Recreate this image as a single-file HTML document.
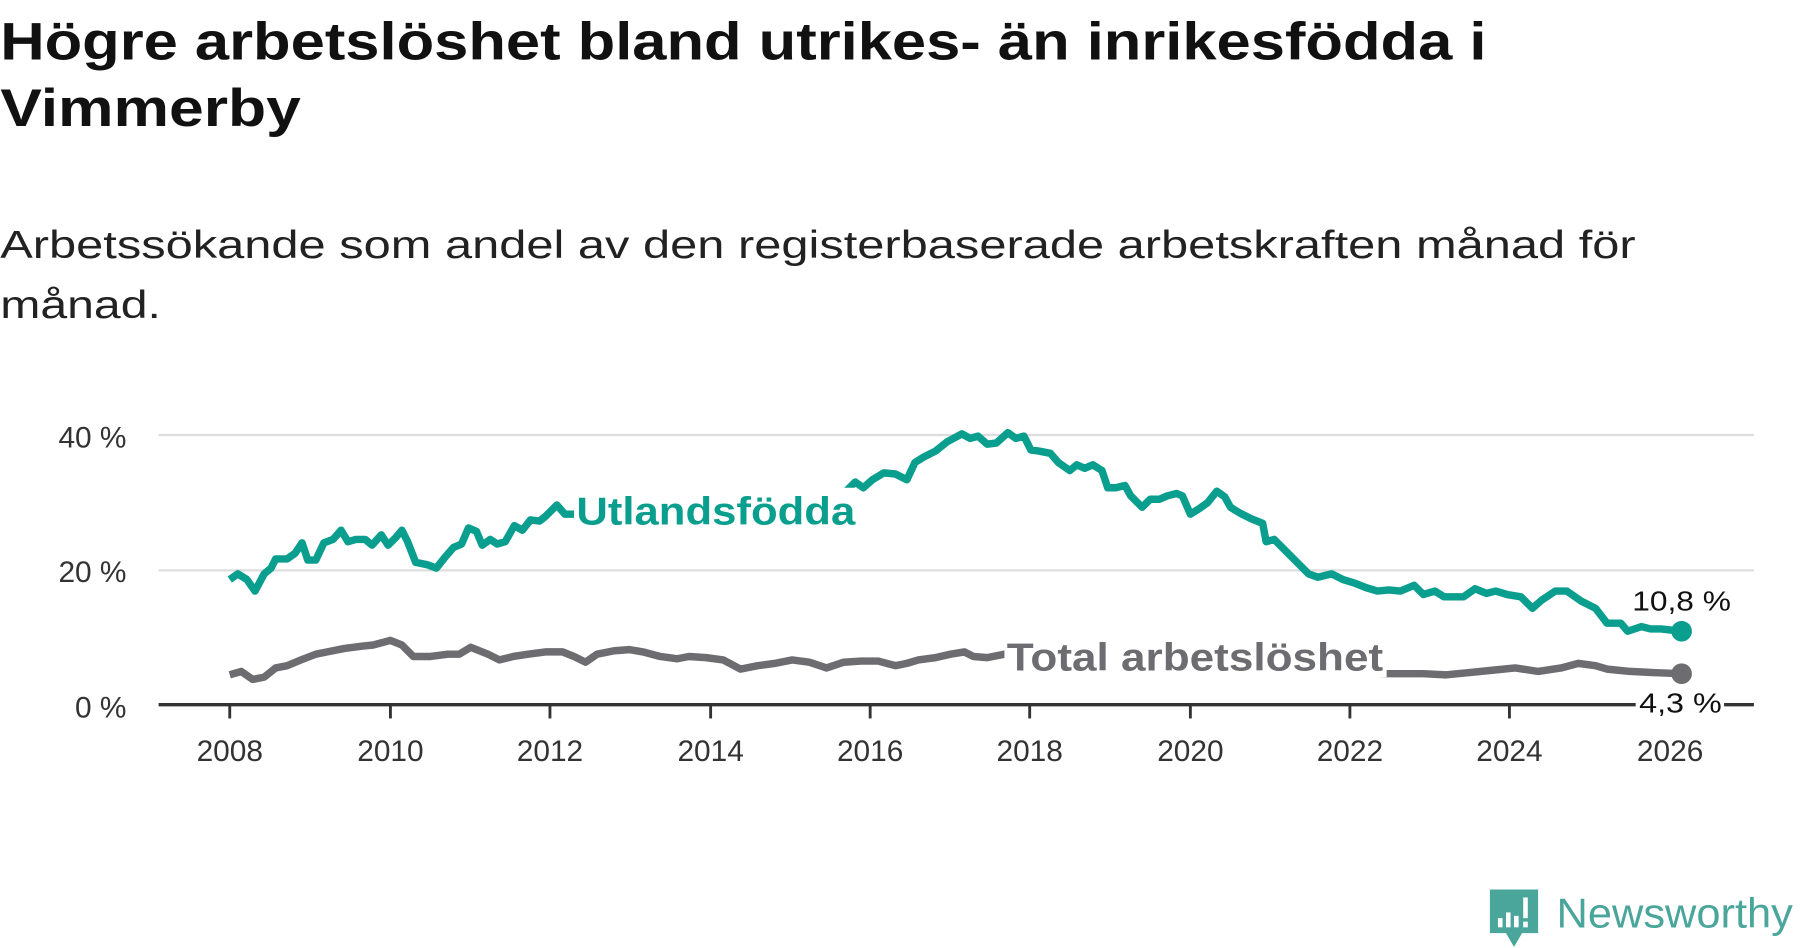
<!DOCTYPE html>
<html><head><meta charset="utf-8"><style>
html,body{margin:0;padding:0;background:#fff;}
svg{display:block;}
</style></head><body>
<svg width="1800" height="948" viewBox="0 0 1568 826" xmlns="http://www.w3.org/2000/svg" font-family="'Liberation Sans', sans-serif">
<rect width="1568" height="826" fill="#fff"/>
<text x="0" y="52" font-size="46" font-weight="bold" fill="#111" textLength="1295" lengthAdjust="spacingAndGlyphs">Högre arbetslöshet bland utrikes- än inrikesfödda i</text>
<text x="0" y="110" font-size="46" font-weight="bold" fill="#111" textLength="262" lengthAdjust="spacingAndGlyphs">Vimmerby</text>
<text x="0" y="225" font-size="34" fill="#222" textLength="1425" lengthAdjust="spacingAndGlyphs">Arbetssökande som andel av den registerbaserade arbetskraften månad för</text>
<text x="0" y="277" font-size="34" fill="#222" textLength="140" lengthAdjust="spacingAndGlyphs">månad.</text>

<line x1="138" y1="379" x2="1528" y2="379" stroke="#ddd" stroke-width="2"/>
<line x1="138" y1="497" x2="1528" y2="497" stroke="#ddd" stroke-width="2"/>
<g font-size="26" fill="#333" text-anchor="end">
<text x="110" y="390">40 %</text><text x="110" y="507">20 %</text><text x="110" y="625">0 %</text>
</g>
<line x1="138" y1="614" x2="1528" y2="614" stroke="#333" stroke-width="3"/>
<g stroke="#333" stroke-width="2.5">
<line x1="200" y1="614" x2="200" y2="626"/><line x1="340" y1="614" x2="340" y2="626"/><line x1="479" y1="614" x2="479" y2="626"/><line x1="619" y1="614" x2="619" y2="626"/><line x1="758" y1="614" x2="758" y2="626"/><line x1="897" y1="614" x2="897" y2="626"/><line x1="1037" y1="614" x2="1037" y2="626"/><line x1="1176" y1="614" x2="1176" y2="626"/><line x1="1315" y1="614" x2="1315" y2="626"/><line x1="1455" y1="614" x2="1455" y2="626"/>
</g>
<g font-size="26" fill="#333" text-anchor="middle">
<text x="200" y="663">2008</text><text x="340" y="663">2010</text><text x="479" y="663">2012</text><text x="619" y="663">2014</text><text x="758" y="663">2016</text><text x="897" y="663">2018</text><text x="1037" y="663">2020</text><text x="1176" y="663">2022</text><text x="1315" y="663">2024</text><text x="1455" y="663">2026</text>
</g>

<polyline fill="none" stroke="#0a9e8e" stroke-width="6.5" stroke-linejoin="round" points="200,505 207,500 215,505 222,515 230,500 236,495 240,487 250,487 257,482 263,473 268,488 275,488 282,473 290,470 297,462 303,472 310,470 318,470 324,475 332,466 338,475 345,468 350,462 355,472 362,490 372,492 380,495 388,485 395,477 402,474 408,460 415,463 420,475 427,470 433,474 440,472 448,458 455,462 462,453 470,454 475,450 485,440 492,448 500,448 560,447 620,445 680,442 730,435 745,420 752,425 760,418 770,412 780,413 790,418 797,403 805,398 815,393 825,385 838,378 845,382 852,380 860,387 868,386 878,377 885,382 892,380 898,392 905,393 915,395 922,403 932,410 938,405 945,408 952,405 960,410 965,425 972,425 980,423 985,432 995,442 1002,435 1010,435 1017,432 1025,430 1030,432 1037,448 1045,443 1052,438 1060,428 1067,433 1072,442 1080,447 1090,452 1100,456 1103,472 1110,470 1120,480 1130,490 1140,500 1148,503 1160,500 1170,505 1180,508 1190,512 1200,515 1210,514 1220,515 1232,510 1240,518 1250,515 1258,520 1275,520 1285,513 1295,517 1303,515 1313,518 1325,520 1335,530 1343,523 1355,515 1365,515 1378,524 1390,530 1400,543 1412,543 1418,550 1430,546 1438,548 1447,548 1465,550"/>
<polyline fill="none" stroke="#6d6c71" stroke-width="6.5" stroke-linejoin="round" points="200,588 210,585 220,592 230,590 240,582 250,580 262,575 275,570 285,568 300,565 315,563 325,562 340,558 350,562 360,572 375,572 390,570 400,570 410,564 425,570 435,575 447,572 460,570 475,568 490,568 500,572 510,577 520,570 535,567 548,566 560,568 575,572 590,574 600,572 615,573 630,575 645,583 660,580 675,578 690,575 705,577 720,582 735,577 750,576 765,576 780,580 790,578 800,575 815,573 828,570 840,568 848,572 860,573 875,570 950,575 1050,580 1150,585 1210,587 1240,587 1260,588 1280,586 1300,584 1320,582 1340,585 1360,582 1375,578 1390,580 1400,583 1420,585 1440,586 1465,587"/>

<rect x="500" y="425" width="246" height="42" fill="#fff"/>
<rect x="875" y="552" width="333" height="38" fill="#fff"/>
<text x="502" y="457" font-size="34" font-weight="bold" fill="#0a9e8e" textLength="243" lengthAdjust="spacingAndGlyphs">Utlandsfödda</text>
<text x="877" y="584" font-size="34" font-weight="bold" fill="#6d6c71" textLength="328" lengthAdjust="spacingAndGlyphs">Total arbetslöshet</text>

<circle cx="1465" cy="550" r="9" fill="#0a9e8e"/>
<circle cx="1465" cy="587" r="9" fill="#6d6c71"/>
<text x="1422" y="532" font-size="24" fill="#111" textLength="86" lengthAdjust="spacingAndGlyphs">10,8 %</text>
<rect x="1425" y="600" width="77" height="26" fill="#fff"/>
<text x="1428" y="621" font-size="24" fill="#111" textLength="72" lengthAdjust="spacingAndGlyphs">4,3 %</text>

<g>
<path d="M1298,775 h42 v38 h-14 l-7,12 l-7,-12 h-14 z" fill="#4aa59b"/>
<rect x="1305" y="800" width="4" height="8" fill="#fff"/>
<rect x="1312" y="795" width="4" height="13" fill="#fff"/>
<rect x="1319" y="798" width="4" height="10" fill="#fff"/>
<rect x="1327" y="782" width="4" height="18" fill="#fff"/>
<rect x="1327" y="803" width="4" height="5" fill="#fff"/>
</g>
<text x="1356" y="808" font-size="36" fill="#4aa59b" textLength="206" lengthAdjust="spacingAndGlyphs">Newsworthy</text>
</svg>
</body></html>
